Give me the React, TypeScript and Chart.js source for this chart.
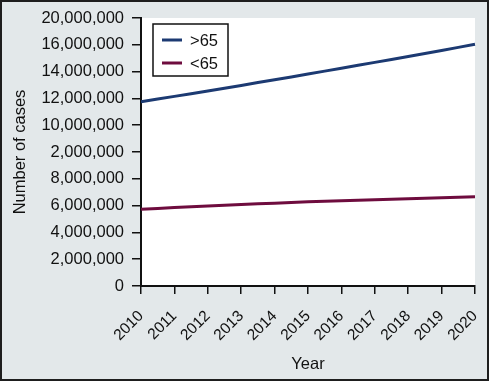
import React, { useEffect, useRef } from "react";
import { Chart, registerables } from "chart.js";

Chart.register(...registerables);

const years = ["2010", "2011", "2012", "2013", "2014", "2015", "2016", "2017", "2018", "2019", "2020"];
const over65 = [13750000, 14150000, 14560000, 14970000, 15390000, 15820000, 16250000, 16690000, 17130000, 17580000, 18040000];
const under65 = [5720000, 5850000, 5970000, 6080000, 6180000, 6280000, 6360000, 6440000, 6520000, 6590000, 6660000];
const yTickLabels = [
  "0",
  "2,000,000",
  "4,000,000",
  "6,000,000",
  "8,000,000",
  "2,000,000",
  "10,000,000",
  "12,000,000",
  "14,000,000",
  "16,000,000",
  "20,000,000",
];

const FONT = "'Liberation Sans', Arial, Helvetica, sans-serif";

const plotBg = {
  id: "plotBg",
  beforeDraw(chart: any) {
    const { ctx, chartArea } = chart;
    ctx.save();
    ctx.fillStyle = "#ffffff";
    ctx.fillRect(chartArea.left, chartArea.top, chartArea.right - chartArea.left, chartArea.bottom - chartArea.top);
    ctx.restore();
  },
};

const boxLegend = {
  id: "boxLegend",
  afterDraw(chart: any) {
    const { ctx, chartArea } = chart;
    const x = chartArea.left + 12;
    const y = chartArea.top + 6;
    const w = 75;
    const h = 52;
    ctx.save();
    ctx.fillStyle = "#ffffff";
    ctx.fillRect(x, y, w, h);
    ctx.strokeStyle = "#111111";
    ctx.lineWidth = 1.5;
    ctx.strokeRect(x, y, w, h);
    ctx.font = `16.5px ${FONT}`;
    ctx.textBaseline = "middle";
    chart.data.datasets.forEach((ds: any, i: number) => {
      const ry = y + 16 + i * 23;
      ctx.strokeStyle = ds.borderColor;
      ctx.lineWidth = 3;
      ctx.beginPath();
      ctx.moveTo(x + 9, ry);
      ctx.lineTo(x + 29, ry);
      ctx.stroke();
      ctx.fillStyle = "#111111";
      ctx.fillText(ds.label, x + 37, ry + 1);
    });
    ctx.restore();
  },
};

export default function App() {
  const ref = useRef<HTMLCanvasElement | null>(null);

  useEffect(() => {
    document.body.style.margin = "0";
    if (!ref.current) return;
    const chart = new Chart(ref.current, {
      type: "line",
      data: {
        labels: years,
        datasets: [
          {
            label: ">65",
            data: over65,
            borderColor: "#1c3a72",
            borderWidth: 3,
            pointRadius: 0,
            tension: 0.3,
          },
          {
            label: "<65",
            data: under65,
            borderColor: "#6e0c3e",
            borderWidth: 3,
            pointRadius: 0,
            tension: 0.3,
          },
        ],
      },
      options: {
        animation: false,
        responsive: false,
        maintainAspectRatio: false,
        layout: { padding: { top: 16, right: 12, left: 0, bottom: 5 } },
        plugins: {
          legend: { display: false },
          tooltip: { enabled: false },
        },
        scales: {
          x: {
            offset: false,
            afterFit(scale: any) {
              scale.height = 88;
              scale.paddingRight = 0;
              scale.paddingLeft = 0;
            },
            grid: {
              drawOnChartArea: false,
              drawTicks: true,
              tickLength: 8,
              color: "#111111",
              lineWidth: 1.5,
            },
            border: { color: "#111111", width: 2 },
            ticks: {
              minRotation: 45,
              maxRotation: 45,
              autoSkip: false,
              padding: 13,
              color: "#111111",
              font: { family: FONT, size: 15.5 },
            },
            title: {
              display: true,
              text: "Year",
              color: "#111111",
              padding: { top: 0, bottom: 0 },
              font: { family: FONT, size: 16.5 },
            },
          },
          y: {
            min: 0,
            max: 20000000,
            afterFit(scale: any) {
              scale.width = 139;
              scale.paddingTop = 0;
              scale.paddingBottom = 0;
            },
            afterBuildTicks(scale: any) {
              scale.ticks = yTickLabels.map((_, i) => ({ value: i * 2000000 }));
            },
            grid: {
              drawOnChartArea: false,
              drawTicks: true,
              tickLength: 9,
              color: "#111111",
              lineWidth: 1.5,
            },
            border: { color: "#111111", width: 2 },
            ticks: {
              padding: 8,
              color: "#111111",
              font: { family: FONT, size: 16.5 },
              callback: (_v: any, i: number) => yTickLabels[i],
            },
            title: {
              display: true,
              text: "Number of cases",
              color: "#111111",
              padding: { top: 9, bottom: 0 },
              font: { family: FONT, size: 16.5 },
            },
          },
        },
      },
      plugins: [plotBg, boxLegend],
    });
    return () => chart.destroy();
  }, []);

  return (
    <div
      style={{
        width: 485,
        height: 377,
        border: "2px solid #1e1e1e",
        background: "#e3e8ea",
      }}
    >
      <canvas ref={ref} width={485} height={377} style={{ display: "block" }} />
    </div>
  );
}
